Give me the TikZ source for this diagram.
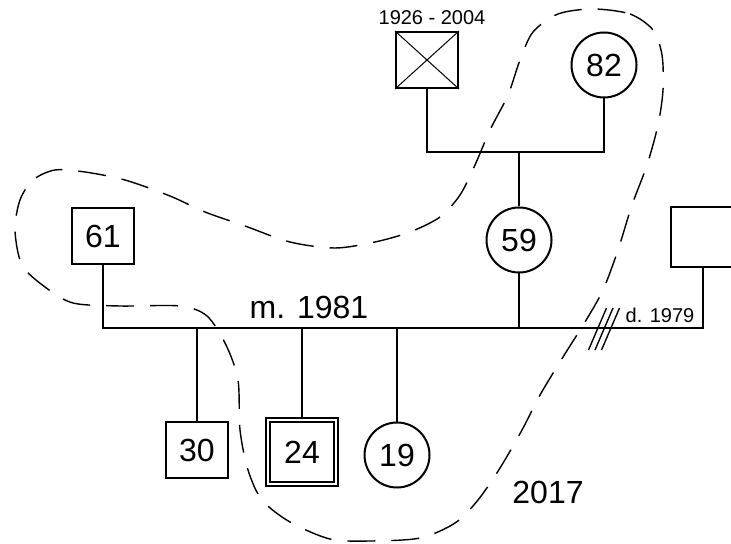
\documentclass[tikz,border=0pt]{standalone}
\usepackage{fontspec}
\setmainfont{Liberation Sans}
\usetikzlibrary{calc}

\begin{document}
\begin{tikzpicture}[x=0.5pt, y=-0.5pt,
        male/.style={rectangle, draw, line width=1pt, minimum width=31pt, minimum height=28pt, inner sep=0pt, font=\fontsize{16}{19}\selectfont},
        female/.style={circle, draw, line width=1pt, minimum size=32.5pt, inner sep=0pt, font=\fontsize{16}{19}\selectfont},
        index/.style={male, double, line width=.75pt, double distance=1.4pt, minimum width=34pt, minimum height=32pt},
        big/.style={font=\fontsize{16}{19}\selectfont},
        lbl/.style={font=\fontsize{10}{12}\selectfont},
        rel/.style={line width=1pt},
        household/.style={line width=.7pt, dash pattern=on 14pt off 8pt}]

      \useasboundingbox (0,0) rectangle (731,544);

      % grandparents
      \node[male] (gf) at (427,60) {};
      \draw[line width=.5pt] (gf.north west) -- (gf.south east) (gf.north east) -- (gf.south west);
      \node[lbl] (gfyears) at (432,18) {1926 - 2004};
      \node[female] (gm) at (604,65) {82};
      \coordinate (gline) at (0,152);
      \draw[rel] (gf.south) -- (gf.south |- gline) -- (gm.south |- gline) -- (gm.south);

      % parents
      \node[male] (father) at (103,236) {61};
      \node[female] (mother) at (519,240) {59};
      \node[male, minimum width=32pt, minimum height=30pt] (exh) at (703,237) {};
      \draw[rel] (mother.north) -- (mother.north |- gline);
      \coordinate (mline) at (0,328);
      \draw[rel] (father.south) -- (father.south |- mline) -- (exh.south |- mline) -- (exh.south);
      \draw[rel] (mother.south) -- (mother.south |- mline);
      \node[big] (married) at (309,307) {m. 1981};
      \node[lbl] (divorced) at (660,315) {d. 1979};

      % divorce slashes
      \coordinate (cut) at (604,329);
      \draw[line width=.7pt] ($(cut)+(-15.5,21)$) -- ($(cut)+(2.5,-21)$);
      \draw[line width=.7pt] ($(cut)+(-9,21)$) -- ($(cut)+(9,-21)$);
      \draw[line width=.7pt] ($(cut)+(-2.5,21)$) -- ($(cut)+(15.5,-21)$);

      % children
      \node[male] (son30) at (197,450) {30};
      \node[index] (son24) at (302,452) {24};
      \node[female] (dau19) at (397,455) {19};
      \draw[rel] (son30.north) -- (son30.north |- mline);
      \draw[rel] (son24.north) -- (son24.north |- mline);
      \draw[rel] (dau19.north) -- (dau19.north |- mline);

      % household 2017
      \draw[household] plot[smooth cycle] coordinates {
        (593,9) (630,14) (653,30) (662,55) (663,90) (658,125) (647,165)
        (632,205) (618,250) (603,290) (585,322) (563,357) (540,395)
        (522,430) (500,468) (478,500) (455,523) (420,538) (370,541)
        (330,539) (290,522) (262,500) (248,470) (240,430) (238,380)
        (226,345) (207,316) (180,306) (120,306) (73,303) (45,287)
        (22,265) (15,230) (20,200) (33,180) (55,170) (85,172) (125,180)
        (170,196) (205,212) (245,226) (290,242) (335,248) (375,242)
        (410,232) (440,217) (460,195) (475,165) (490,130) (508,95)
        (520,60) (533,32) (558,14)};
      \node[big] (year) at (548,492) {2017};
    \end{tikzpicture}
\end{document}
